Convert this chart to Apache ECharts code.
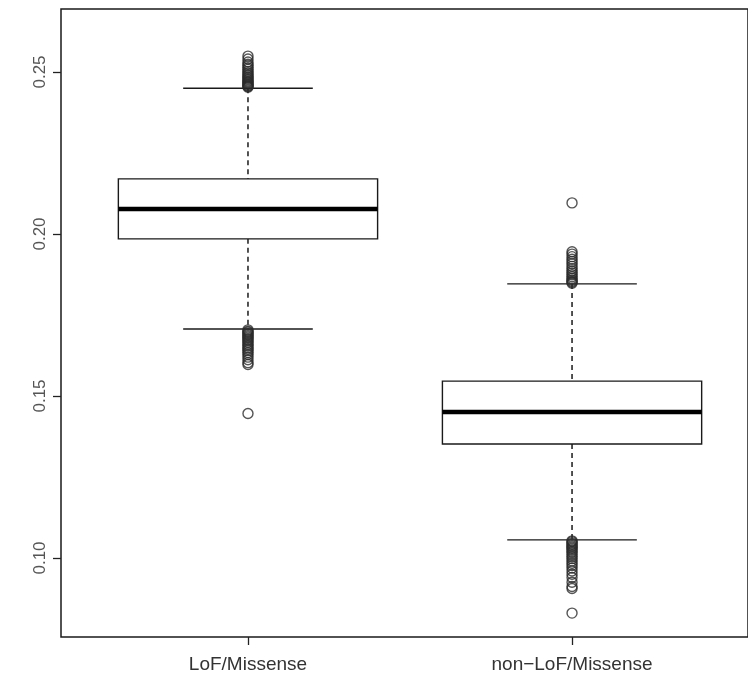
<!DOCTYPE html>
<html>
<head>
<meta charset="utf-8">
<script src="https://cdn.jsdelivr.net/npm/echarts@6/dist/echarts.min.js"></script>
<style>html,body{margin:0;padding:0;background:#fff}#c{width:748px;height:684px}</style>
</head>
<body>
<div id="c"></div>
<script>
// Data
var categories = ['LoF/Missense', 'non\u2212LoF/Missense'];
// [lower whisker, Q1, median, Q3, upper whisker]
var boxLoF = [0.1707, 0.1985, 0.2077, 0.2170, 0.2450];
var boxNon = [0.1056, 0.1352, 0.1451, 0.1546, 0.1846];
var outLoF = [0.2549, 0.2540, 0.2531, 0.2524, 0.2519, 0.2513, 0.2508, 0.2502, 0.2497, 0.2492, 0.2488, 0.2484, 0.2480, 0.2476, 0.2472, 0.2469, 0.2466, 0.2463, 0.2460, 0.2457, 0.2455, 0.2453,
              0.1704, 0.1700, 0.1697, 0.1693, 0.1690, 0.1686, 0.1682, 0.1678, 0.1674, 0.1670, 0.1665, 0.1660, 0.1655, 0.1650, 0.1645, 0.1640, 0.1634, 0.1628, 0.1620, 0.1612, 0.1603, 0.1597, 0.1446];
var outNon = [0.2096, 0.1945, 0.1938, 0.1930, 0.1922, 0.1915, 0.1908, 0.1900, 0.1893, 0.1886, 0.1880, 0.1874, 0.1868, 0.1863, 0.1858, 0.1854, 0.1851, 0.1848,
              0.1053, 0.1050, 0.1046, 0.1042, 0.1038, 0.1034, 0.1030, 0.1026, 0.1021, 0.1016, 0.1010, 0.1004, 0.0998, 0.0991, 0.0984, 0.0977, 0.0969, 0.0960, 0.0950, 0.0940, 0.0925, 0.0912, 0.0906, 0.0830];
var yTicks = [0.10, 0.15, 0.20, 0.25];

var boxes = [boxLoF, boxNon];
var boxData = boxes.map(function (b, i) { return [i + 1].concat(b); });
var outData = [];
[outLoF, outNon].forEach(function (arr, i) {
  arr.forEach(function (v) { outData.push([i + 1, v]); });
});

var lineColor = '#1a1a1a';
var chart = echarts.init(document.getElementById('c'), null, {renderer: 'canvas'});
chart.setOption({
  animation: false,
  backgroundColor: '#fff',
  grid: {left: 61, right: 0, top: 9, bottom: 47, show: true, borderColor: '#1a1a1a', borderWidth: 1.5, backgroundColor: 'transparent'},
  xAxis: {
    type: 'value', min: 0.423, max: 2.543,
    splitLine: {show: false},
    axisLine: {show: false},
    axisTick: {show: true, customValues: [1, 2], length: 8, lineStyle: {color: '#222', width: 1.3}},
    axisLabel: {customValues: [1, 2], margin: 18, fontSize: 19, color: '#333', fontFamily: 'Liberation Sans, Arial, sans-serif',
      formatter: function (v) { return categories[Math.round(v) - 1]; }}
  },
  yAxis: {
    type: 'value', min: 0.07562, max: 0.26944,
    splitLine: {show: false},
    axisLine: {show: false},
    axisTick: {show: true, customValues: yTicks, length: 8, lineStyle: {color: '#222', width: 1.3}},
    axisLabel: {customValues: yTicks, rotate: 90, margin: 12, fontSize: 17, color: '#555', fontFamily: 'Liberation Sans, Arial, sans-serif',
      formatter: function (v) { return v.toFixed(2); }}
  },
  series: [
    {
      type: 'custom',
      data: boxData,
      z: 2,
      renderItem: function (params, api) {
        var x = api.value(0);
        var lo = api.value(1), q1 = api.value(2), md = api.value(3), q3 = api.value(4), hi = api.value(5);
        var hw = 0.4, cw = 0.2;
        var pL = api.coord([x - hw, q3]), pR = api.coord([x + hw, q1]);
        var pMl = api.coord([x - hw, md]), pMr = api.coord([x + hw, md]);
        var pHi = api.coord([x, hi]), pLo = api.coord([x, lo]);
        var pQ3 = api.coord([x, q3]), pQ1 = api.coord([x, q1]);
        var cL = api.coord([x - cw, hi]), cR = api.coord([x + cw, hi]);
        var dL = api.coord([x - cw, lo]), dR = api.coord([x + cw, lo]);
        var st = {stroke: lineColor, lineWidth: 1.4, fill: null};
        var dash = {stroke: lineColor, lineWidth: 1.5, lineDash: [5, 4]};
        return {
          type: 'group',
          children: [
            {type: 'line', shape: {x1: pHi[0], y1: pHi[1], x2: pQ3[0], y2: pQ3[1]}, style: dash},
            {type: 'line', shape: {x1: pQ1[0], y1: pQ1[1], x2: pLo[0], y2: pLo[1]}, style: dash},
            {type: 'line', shape: {x1: cL[0], y1: cL[1], x2: cR[0], y2: cR[1]}, style: st},
            {type: 'line', shape: {x1: dL[0], y1: dL[1], x2: dR[0], y2: dR[1]}, style: st},
            {type: 'rect', shape: {x: pL[0], y: pL[1], width: pR[0] - pL[0], height: pR[1] - pL[1]}, style: {stroke: lineColor, lineWidth: 1.4, fill: '#fff'}},
            {type: 'line', shape: {x1: pMl[0], y1: pMl[1], x2: pMr[0], y2: pMr[1]}, style: {stroke: '#000', lineWidth: 4.5}}
          ]
        };
      }
    },
    {
      type: 'scatter',
      data: outData,
      z: 3,
      symbol: 'circle',
      symbolSize: 10,
      itemStyle: {color: 'rgba(255,255,255,0)', borderColor: '#2a2a2a', borderWidth: 1.4}
    }
  ]
});
</script>
</body>
</html>
